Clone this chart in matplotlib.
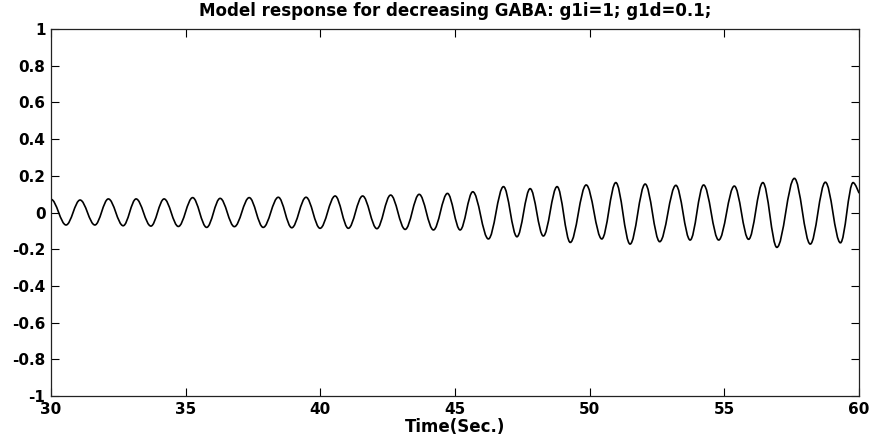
import matplotlib
matplotlib.use("Agg")
from matplotlib import pyplot as plt
from matplotlib.path import Path
from matplotlib.patches import PathPatch

# peaks and troughs of the response (time in s, value)
peak_times = [30.00, 30.56, 31.08, 31.63, 32.13, 32.68, 33.16, 33.71, 34.20, 34.73,
              35.26, 35.78, 36.28, 36.81, 37.36, 37.88, 38.44, 38.94, 39.47, 39.99,
              40.55, 41.04, 41.57, 42.10, 42.61, 43.15, 43.67, 44.20, 44.72, 45.19,
              45.66, 46.24, 46.80, 47.30, 47.79, 48.28, 48.79, 49.28, 49.87, 50.45,
              50.97, 51.50, 52.06, 52.60, 53.20, 53.73, 54.23, 54.79, 55.37, 55.90,
              56.43, 56.95, 57.60, 58.19, 58.75, 59.31, 59.78, 60.00]
peak_values = [0.072, -0.068, 0.068, -0.068, 0.074, -0.072, 0.074, -0.074, 0.074, -0.076,
               0.081, -0.081, 0.077, -0.077, 0.081, -0.081, 0.083, -0.083, 0.083, -0.086,
               0.090, -0.086, 0.090, -0.088, 0.095, -0.092, 0.099, -0.095, 0.104, -0.095,
               0.113, -0.144, 0.141, -0.132, 0.130, -0.128, 0.141, -0.163, 0.150, -0.144,
               0.163, -0.172, 0.155, -0.159, 0.148, -0.150, 0.150, -0.150, 0.144, -0.146,
               0.163, -0.190, 0.186, -0.172, 0.165, -0.165, 0.163, 0.105]

x_ticks = [30, 35, 40, 45, 50, 55, 60]
y_ticks = [-1, -0.8, -0.6, -0.4, -0.2, 0, 0.2, 0.4, 0.6, 0.8, 1]
y_tick_labels = ['-1', '-0.8', '-0.6', '-0.4', '-0.2', '0', '0.2', '0.4', '0.6', '0.8', '1']

plt.rcParams['font.family'] = 'DejaVu Sans'
plt.rcParams['font.weight'] = 'bold'

fig = plt.figure(figsize=(8.73, 4.36), dpi=100)
ax = fig.add_axes([0.0584, 0.0917, 0.9256, 0.8418])

# smooth half waves between successive extrema (bezier, flat at each extremum)
k = 0.36
verts = [(peak_times[0], peak_values[0])]
codes = [Path.MOVETO]
for i in range(1, len(peak_times)):
    t0, v0 = peak_times[i - 1], peak_values[i - 1]
    t1, v1 = peak_times[i], peak_values[i]
    dt = t1 - t0
    c1 = (t0 + k * dt, v0)
    if i < len(peak_times) - 1:
        c2 = (t1 - k * dt, v1)
    else:
        c2 = (t1, v1)  # last point is just where the record stops
    verts += [c1, c2, (t1, v1)]
    codes += [Path.CURVE4] * 3
ax.add_patch(PathPatch(Path(verts, codes), fill=False, edgecolor='black', linewidth=1.2))

ax.set_xlim(30, 60)
ax.set_ylim(-1, 1)
ax.set_xticks(x_ticks)
ax.set_yticks(y_ticks)
ax.set_yticklabels(y_tick_labels)
ax.tick_params(direction='in', length=6, width=0.8, top=True, right=True,
               labelsize=11, pad=4)
for s in ax.spines.values():
    s.set_linewidth(0.9)
    s.set_color('#222222')

ax.set_title('Model response for decreasing GABA: g1i=1; g1d=0.1;',
             fontsize=12, fontweight='bold', pad=9)
ax.set_xlabel('Time(Sec.)', fontsize=12, fontweight='bold', labelpad=1)

fig.savefig('out.png', dpi=100)
